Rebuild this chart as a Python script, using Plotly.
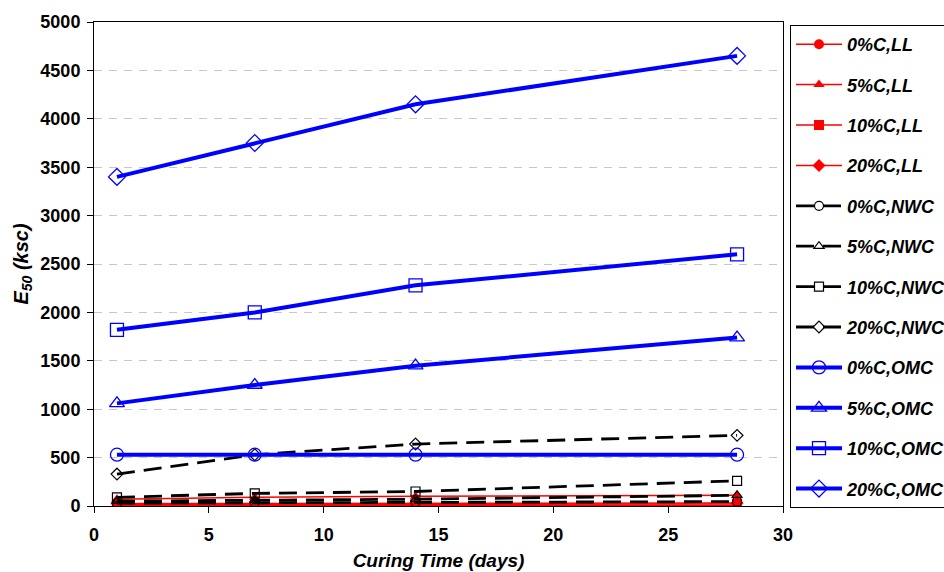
import plotly.graph_objects as go

# Curing time (days)
curing_days = [1, 7, 14, 28]

# E50 (ksc) by cement content and moulding water content
e50_0c_ll = [5, 5, 5, 5]
e50_5c_ll = [70, 90, 100, 110]
e50_10c_ll = [15, 15, 20, 20]
e50_20c_ll = [25, 25, 30, 30]

e50_0c_nwc = [30, 35, 40, 45]
e50_5c_nwc = [50, 60, 70, 110]
e50_10c_nwc = [90, 130, 150, 260]
e50_20c_nwc = [330, 530, 640, 730]

e50_0c_omc = [530, 530, 530, 530]
e50_5c_omc = [1060, 1250, 1450, 1740]
e50_10c_omc = [1820, 2000, 2280, 2600]
e50_20c_omc = [3400, 3750, 4150, 4650]

series_names = [
    "0%C,LL", "5%C,LL", "10%C,LL", "20%C,LL",
    "0%C,NWC", "5%C,NWC", "10%C,NWC", "20%C,NWC",
    "0%C,OMC", "5%C,OMC", "10%C,OMC", "20%C,OMC",
]
series_values = [
    e50_0c_ll, e50_5c_ll, e50_10c_ll, e50_20c_ll,
    e50_0c_nwc, e50_5c_nwc, e50_10c_nwc, e50_20c_nwc,
    e50_0c_omc, e50_5c_omc, e50_10c_omc, e50_20c_omc,
]

FONT = "Arial, Liberation Sans, sans-serif"
RED = "#ff0000"
BLACK = "#000000"
BLUE = "#0000ff"

filled_symbols = ["circle", "triangle-up", "square", "diamond"]
open_symbols = ["circle-open", "triangle-up-open", "square-open", "diamond-open"]

fig = go.Figure()

for i, (name, vals) in enumerate(zip(series_names, series_values)):
    k = i % 4
    group = i // 4
    if group == 0:
        line = dict(color=RED, width=1.5)
        marker = dict(symbol=filled_symbols[k], size=10, color=RED)
    elif group == 1:
        line = dict(color=BLACK, width=2.8, dash="18px,9px")
        marker = dict(symbol=open_symbols[k], size=9, color=BLACK,
                      line=dict(color=BLACK, width=1.2))
    else:
        line = dict(color=BLUE, width=4)
        marker = dict(symbol=open_symbols[k], size=13, color=BLUE,
                      line=dict(color=BLUE, width=1.3))
    fig.add_trace(go.Scatter(
        x=curing_days, y=vals, name=name, mode="lines+markers",
        line=line, marker=marker, legendgroup=name,
    ))

W, H = 944, 572
ML, MR, MT, MB = 94, 161, 22, 66
plot_w = W - ML - MR
plot_h = H - MT - MB

fig.update_layout(
    width=W, height=H,
    margin=dict(l=ML, r=MR, t=MT, b=MB, autoexpand=False),
    plot_bgcolor="white", paper_bgcolor="white",
    font=dict(family=FONT, size=18, color="black"),
    showlegend=True,
    legend=dict(
        x=1 + 7 / plot_w, xanchor="left", y=1 - 3 / plot_h, yanchor="top",
        bordercolor="black", borderwidth=1, bgcolor="white",
        font=dict(family=FONT, size=18, color="black", weight="bold", style="italic"),
        tracegroupgap=14, traceorder="grouped",
        itemwidth=46, maxheight=540,
    ),
    xaxis=dict(
        range=[0, 30], dtick=5, tick0=0,
        showline=True, linecolor="black", linewidth=1, mirror=True,
        ticks="outside", ticklen=6, tickcolor="black",
        ticklabelstandoff=6,
        showgrid=False, zeroline=False,
        tickfont=dict(family=FONT, size=18, weight="bold"),
        title=dict(text="Curing Time (days)", standoff=10,
                   font=dict(family=FONT, size=19, weight="bold", style="italic")),
    ),
    yaxis=dict(
        range=[0, 5000], dtick=500, tick0=0,
        showline=True, linecolor="black", linewidth=1, mirror=True,
        ticks="outside", ticklen=6, tickcolor="black",
        ticklabelstandoff=3,
        showgrid=True, gridcolor="#c8c8c8", griddash="8px,7px", gridwidth=1,
        zeroline=False,
        tickfont=dict(family=FONT, size=18, weight="bold"),
        title=dict(text="E<sub>50</sub> (ksc)", standoff=6,
                   font=dict(family=FONT, size=20, weight="bold", style="italic")),
    ),
)

fig.write_html("out.html")
